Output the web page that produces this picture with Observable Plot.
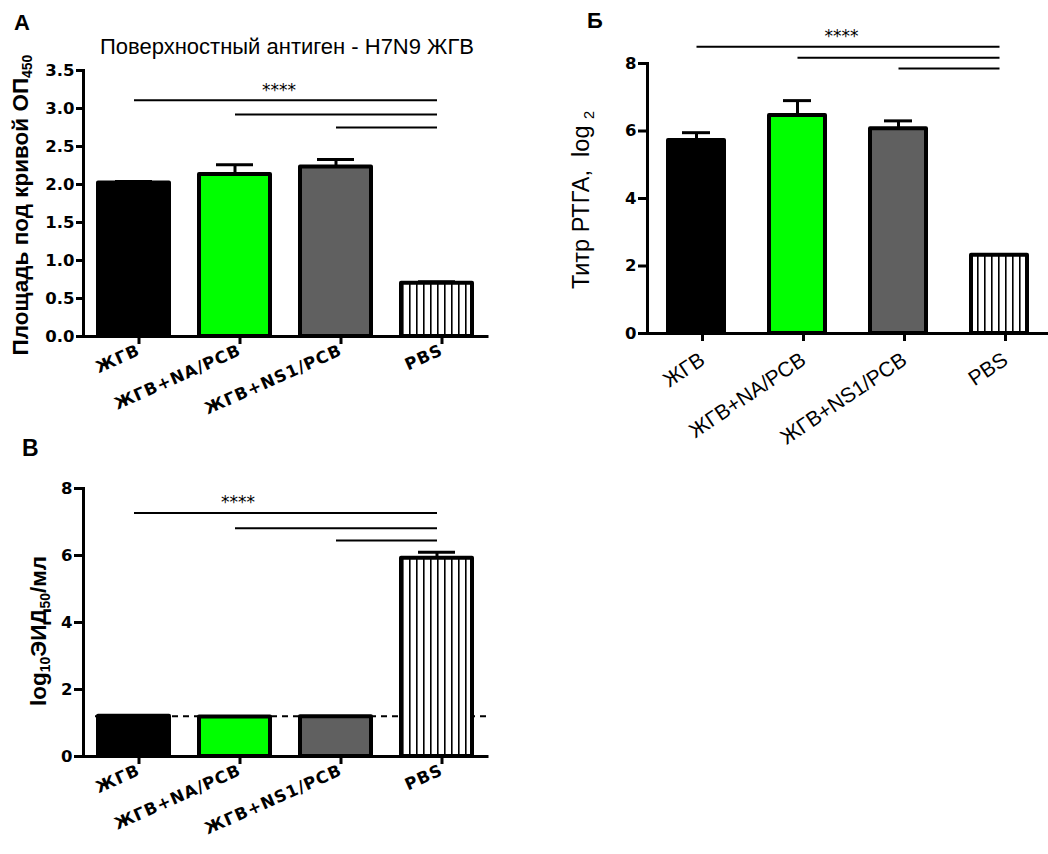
<!DOCTYPE html>
<html><head><meta charset="utf-8">
<script src="https://cdn.jsdelivr.net/npm/d3@7"></script>
<script src="https://cdn.jsdelivr.net/npm/@observablehq/plot@0.6"></script>
<style>
body{margin:0;background:#fff;font-family:"Liberation Sans",Arial,sans-serif;}
#root{position:relative;width:1048px;height:854px;overflow:hidden;background:#fff;}
.panel{position:absolute;}
.lbl{position:absolute;white-space:nowrap;color:#000;line-height:1;}
.center{transform:translate(-50%,-50%);}
.ylab{transform:translate(-50%,-50%) rotate(-90deg);}
sub{font-size:0.62em;vertical-align:-0.3em;line-height:0;}
.b{font-weight:bold;}
.spaced g[aria-label="x-axis tick label"] text{letter-spacing:1px;}
</style>
</head><body>
<div id="root">
<svg width="0" height="0" style="position:absolute">
  <defs>
    <pattern id="stripes" patternUnits="userSpaceOnUse" width="7" height="8">
      <rect width="7" height="8" fill="#fff"></rect>
      <rect x="3" width="1.6" height="8" fill="#000"></rect>
    </pattern>
  </defs>
</svg>
</div>
<script>
// ---- data ----
const categories = ["ЖГВ", "ЖГВ+NA/PCB", "ЖГВ+NS1/PCB", "PBS"];
// A: area under curve OD450
const aucMean = [2.02, 2.13, 2.23, 0.70];
const aucErr  = [0.02, 0.13, 0.10, 0.02];
// Б: HI titer, log2
const hiMean = [5.72, 6.46, 6.07, 2.32];
const hiErr  = [0.23, 0.44, 0.23, 0];
// В: log10 EID50/ml
const eidMean = [1.20, 1.18, 1.19, 5.92];
const eidErr  = [0, 0, 0, 0.18];
const detectionLimit = 1.2;
// significance brackets
const sigFrom = ["ЖГВ", "ЖГВ+NA/PCB", "ЖГВ+NS1/PCB"];
const sigTo = "PBS";
const sigLabel = "****";
const sigLabelAt = "ЖГВ+NA/PCB";
const sigA = [3.11, 2.92, 2.75], sigLabelA = 3.29;
const sigB = [8.50, 8.17, 7.85], sigLabelB = 8.92;
const sigC = [7.27, 6.81, 6.45], sigLabelC = 7.70;
// ticks
const ticksA = [0, 0.5, 1, 1.5, 2, 2.5, 3, 3.5];
const ticksB = [0, 2, 4, 6, 8];
const ticksC = [0, 2, 4, 6, 8];

// ---- styles ----
const fills = ["#000000", "#00ff00", "#606060", "url(#stripes)"];
const FONT = '"Liberation Sans", Arial, sans-serif';
const WIDE = '"DejaVu Sans", sans-serif';

function rows(mean, err) {
  return categories.map((c, i) => ({cat: c, mean: mean[i], err: err[i], top: mean[i] + err[i]}));
}
function sigRows(ys) {
  return sigFrom.map((f, i) => ({from: f, to: sigTo, y: ys[i]}));
}

function panel(o) {
  const data = rows(o.mean, o.err);
  const withErr = data.filter(d => d.err > 0);
  const marks = [];
  if (o.limit != null) marks.push(Plot.ruleY([o.limit], {stroke: "#000", strokeWidth: 2, strokeDasharray: "6,5", insetLeft: 12}));
  marks.push(
    Plot.ruleX(withErr, {x: "cat", y1: "mean", y2: "top", stroke: "#000", strokeWidth: 3}),
    Plot.tickY(withErr, {x: "cat", y: "top", stroke: "#000", strokeWidth: 3, insetLeft: o.capInset, insetRight: o.capInset}),
    Plot.barY(data, {x: "cat", y: "mean", fill: "cat", stroke: "#000", strokeWidth: 4, strokeLinejoin: "round"}),
    Plot.ruleY([0], {stroke: "#000", strokeWidth: 3, strokeLinecap: "square"}),
    Plot.frame({anchor: "left", stroke: "#000", strokeWidth: 3}),
    Plot.axisY({ticks: o.ticks, tickFormat: o.tickFormat, tickSize: o.ytickSize, tickPadding: 2, fontSize: 16.5, fontWeight: "bold", fontFamily: WIDE, strokeWidth: 3, label: null}),
    Plot.axisX({tickSize: 8, tickPadding: o.xPad, tickRotate: o.rotate, fontSize: o.xFont, fontWeight: o.xWeight, fontFamily: o.xFamily, strokeWidth: 3, dx: o.xDx, label: null}),
    Plot.link(sigRows(o.sig), {x1: "from", x2: "to", y1: "y", y2: "y", stroke: "#000", strokeWidth: 2}),
    Plot.text([{at: sigLabelAt, y: o.sigLabelY, t: sigLabel}], {x: "at", y: "y", text: "t", dx: o.sigDx, dy: 4, fontSize: 17, fontFamily: WIDE, fill: "#000"})
  );
  const svg = Plot.plot({
    width: o.width, height: o.height,
    marginLeft: o.ml, marginRight: o.mr, marginTop: o.mt, marginBottom: o.mb,
    x: {domain: categories, paddingInner: o.pi, paddingOuter: o.po, label: null},
    y: {domain: o.yDomain, label: null},
    color: {domain: categories, range: fills},
    style: {fontFamily: FONT, color: "#000", background: "transparent", overflow: "visible"},
    marks
  });
  svg.classList.add("panel");
  if (o.cls) svg.classList.add(o.cls);
  svg.style.left = o.left + "px";
  svg.style.top = o.top + "px";
  return svg;
}

const root = document.getElementById("root");
root.appendChild(panel({
  cls: "spaced", left: 0, top: 0, width: 520, height: 430, ml: 83, mr: 33, mt: 70, mb: 94,
  mean: aucMean, err: aucErr, yDomain: [0, 3.5], ticks: ticksA, tickFormat: d => d.toFixed(1),
  ytickSize: 7, pi: 0.3, po: 0.15, capInset: 17,
  rotate: -24, xPad: 5, xDx: 5, xFont: 16.5, xWeight: "bold", xFamily: WIDE,
  sig: sigA, sigLabelY: sigLabelA, sigDx: 44
}));
root.appendChild(panel({
  left: 540, top: 0, width: 508, height: 460, ml: 107, mr: 0, mt: 63, mb: 127,
  mean: hiMean, err: hiErr, yDomain: [0, 8], ticks: ticksB, tickFormat: d => d,
  ytickSize: 9, pi: 0.45, po: 0.2, capInset: 14,
  rotate: -34, xPad: 16, xDx: 6, xFont: 21, xWeight: "normal", xFamily: FONT,
  sig: sigB, sigLabelY: sigLabelB, sigDx: 44
}));
root.appendChild(panel({
  cls: "spaced", left: 0, top: 440, width: 520, height: 414, ml: 83, mr: 33, mt: 48, mb: 98,
  mean: eidMean, err: eidErr, yDomain: [0, 8], ticks: ticksC, tickFormat: d => d,
  ytickSize: 9, pi: 0.3, po: 0.15, capInset: 17,
  rotate: -24, xPad: 5, xDx: 5, xFont: 16.5, xWeight: "bold", xFamily: WIDE,
  sig: sigC, sigLabelY: sigLabelC, sigDx: 3, limit: detectionLimit
}));

function label(html, css, cls) {
  const d = document.createElement("div");
  d.className = "lbl " + (cls || "");
  d.innerHTML = html;
  Object.assign(d.style, css);
  root.appendChild(d);
}
label("A", {left: "14px", top: "12px", fontSize: "22px"}, "b");
label("Б", {left: "587px", top: "10px", fontSize: "22px"}, "b");
label("В", {left: "22px", top: "437px", fontSize: "23px"}, "b");
label("Поверхностный антиген - H7N9 ЖГВ", {left: "287px", top: "47px", fontSize: "22px"}, "center");
label("Площадь под кривой ОП<sub>450</sub>", {left: "21px", top: "205px", fontSize: "22.5px"}, "b ylab");
label("Титр РТГА,&nbsp; log <sub>2</sub>", {left: "582px", top: "200px", fontSize: "23.5px"}, "ylab");
label("log<sub>10</sub>ЭИД<sub>50</sub>/мл", {left: "39px", top: "631px", fontSize: "22.5px"}, "b ylab");
</script>
</body></html>
